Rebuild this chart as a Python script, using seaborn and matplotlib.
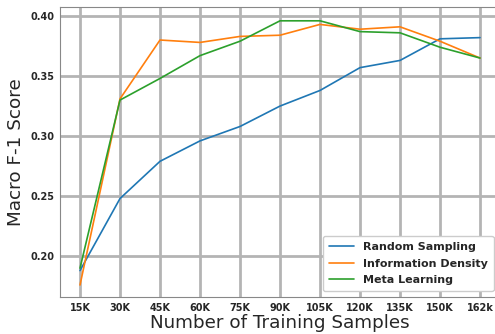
import matplotlib
matplotlib.use("Agg")
import matplotlib.pyplot as plt
import seaborn as sns
import pandas as pd

# tamaños de entrenamiento y resultados de cada estrategia
muestras = ['15K', '30K', '45K', '60K', '75K', '90K', '105K', '120K', '135K', '150K', '162k']
random_sampling = [0.188, 0.248, 0.279, 0.296, 0.308, 0.325, 0.338, 0.357, 0.363, 0.381, 0.382]
information_density = [0.176, 0.331, 0.380, 0.378, 0.383, 0.384, 0.393, 0.389, 0.391, 0.379, 0.365]
meta_learning = [0.190, 0.330, 0.348, 0.367, 0.379, 0.396, 0.396, 0.387, 0.386, 0.374, 0.365]

df = pd.DataFrame({
    'muestras': muestras * 3,
    'score': random_sampling + information_density + meta_learning,
    'metodo': ['Random Sampling'] * 11 + ['Information Density'] * 11 + ['Meta Learning'] * 11,
})

sns.set_style('whitegrid', {'grid.color': '#b4b4b4', 'axes.edgecolor': '#888888'})
fig = plt.figure(figsize=(4.95, 3.34), dpi=100)
ax = fig.add_axes([60 / 495, 37 / 334, 440 / 495, 290 / 334])

sns.lineplot(data=df, x='muestras', y='score', hue='metodo', ax=ax,
             palette=['#1f77b4', '#ff7f0e', '#2ca02c'], linewidth=1.2, sort=False)

ax.grid(True, linewidth=2)
ax.set_xlim(-0.5, 10.5)
ax.set_ylim(0.166, 0.4075)
ax.set_yticks([0.20, 0.25, 0.30, 0.35, 0.40])
ax.set_yticklabels(['0.20', '0.25', '0.30', '0.35', '0.40'])
for lbl in ax.get_xticklabels() + ax.get_yticklabels():
    lbl.set_fontweight('bold')
    lbl.set_fontsize(7)
ax.tick_params(axis='both', length=0, pad=4)
ax.spines['right'].set_visible(False)
ax.set_xlabel('Number of Training Samples', fontsize=13.2, labelpad=1)
ax.set_ylabel('Macro F-1 Score', fontsize=13.2, labelpad=4)

leg = ax.legend(title=None, loc='lower right', bbox_to_anchor=(0.998, 0.0),
                prop={'weight': 'bold', 'size': 8}, handlelength=2.2, framealpha=1,
                borderpad=0.55, labelspacing=0.6)

fig.savefig('out.png', dpi=100)
